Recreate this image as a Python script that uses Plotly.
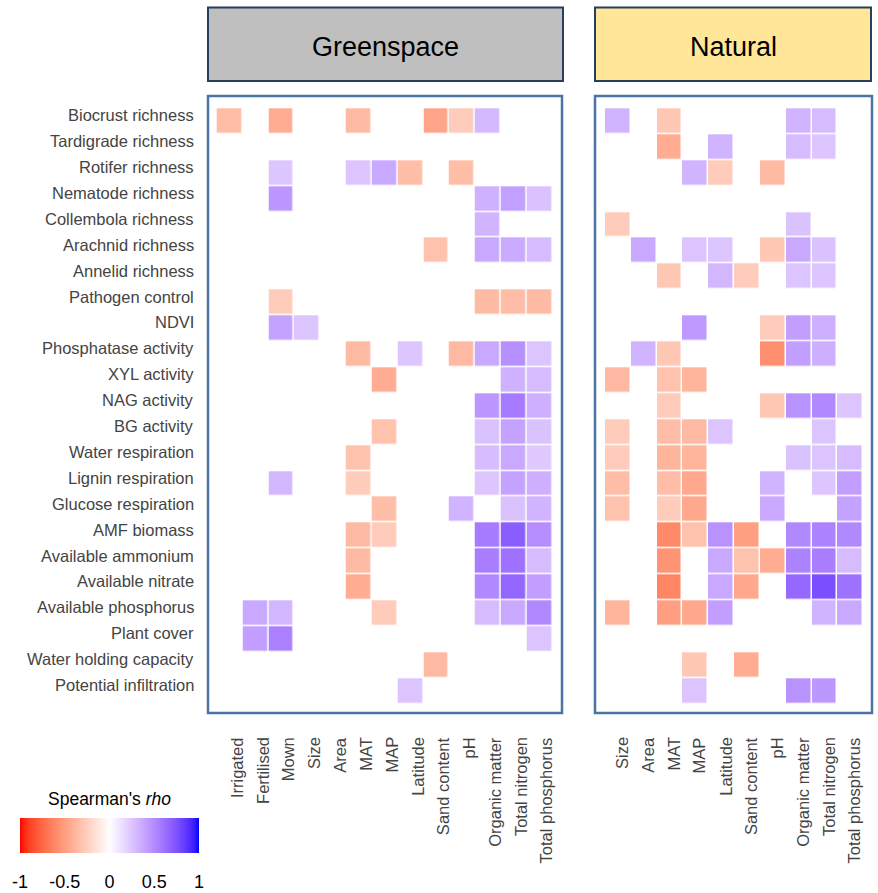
import numpy as np
import plotly.graph_objects as go

# ---------------------------------------------------------------- data
responses = [
    "Biocrust richness", "Tardigrade richness", "Rotifer richness", "Nematode richness",
    "Collembola richness", "Arachnid richness", "Annelid richness", "Pathogen control",
    "NDVI", "Phosphatase activity", "XYL activity", "NAG activity", "BG activity",
    "Water respiration", "Lignin respiration", "Glucose respiration", "AMF biomass",
    "Available ammonium", "Available nitrate", "Available phosphorus", "Plant cover",
    "Water holding capacity", "Potential infiltration",
]

green_drivers = ["Irrigated", "Fertilised", "Mown", "Size", "Area", "MAT", "MAP",
                 "Latitude", "Sand content", "pH", "Organic matter", "Total nitrogen",
                 "Total phosphorus"]
natural_drivers = ["Size", "Area", "MAT", "MAP", "Latitude", "Sand content", "pH",
                   "Organic matter", "Total nitrogen", "Total phosphorus"]

N = None
# Spearman's rho, greenspace sites (rows = responses, cols = green_drivers)
green_rho = [
    [-0.35, N, -0.43, N, N, -0.36, N, N, -0.47, -0.27, 0.30, N, N],
    [N, N, N, N, N, N, N, N, N, N, N, N, N],
    [N, N, 0.24, N, N, 0.25, 0.37, -0.34, N, -0.34, N, N, N],
    [N, N, 0.45, N, N, N, N, N, N, N, 0.33, 0.41, 0.26],
    [N, N, N, N, N, N, N, N, N, N, 0.32, N, N],
    [N, N, N, N, N, N, N, N, -0.32, N, 0.37, 0.36, 0.29],
    [N, N, N, N, N, N, N, N, N, N, N, N, N],
    [N, N, -0.27, N, N, N, N, N, N, N, -0.36, -0.35, -0.36],
    [N, N, 0.40, 0.25, N, N, N, N, N, N, N, N, N],
    [N, N, N, N, N, -0.36, N, 0.24, N, -0.37, 0.37, 0.48, 0.25],
    [N, N, N, N, N, N, -0.43, N, N, N, N, 0.33, 0.29],
    [N, N, N, N, N, N, N, N, N, N, 0.45, 0.57, 0.34],
    [N, N, N, N, N, N, -0.32, N, N, N, 0.26, 0.40, 0.26],
    [N, N, N, N, N, -0.32, N, N, N, N, 0.28, 0.37, 0.23],
    [N, N, 0.31, N, N, -0.27, N, N, N, N, 0.24, 0.40, 0.34],
    [N, N, N, N, N, N, -0.34, N, N, 0.32, N, 0.26, 0.32],
    [N, N, N, N, N, -0.36, -0.27, N, N, N, 0.57, 0.70, 0.49],
    [N, N, N, N, N, -0.36, N, N, N, N, 0.56, 0.61, 0.29],
    [N, N, N, N, N, -0.43, N, N, N, N, 0.51, 0.66, 0.42],
    [N, 0.37, 0.31, N, N, N, -0.27, N, N, N, 0.29, 0.37, 0.51],
    [N, 0.42, 0.55, N, N, N, N, N, N, N, N, N, 0.25],
    [N, N, N, N, N, N, N, N, -0.37, N, N, N, N],
    [N, N, N, N, N, N, N, 0.25, N, N, N, N, N],
]

# Spearman's rho, natural sites (rows = responses, cols = natural_drivers)
natural_rho = [
    [0.32, N, -0.29, N, N, N, N, 0.32, 0.29, N],
    [N, N, -0.43, N, 0.32, N, N, 0.29, 0.24, N],
    [N, N, N, 0.32, -0.27, N, -0.36, N, N, N],
    [N, N, N, N, N, N, N, N, N, N],
    [-0.27, N, N, N, N, N, N, 0.26, N, N],
    [N, 0.37, N, 0.25, 0.24, N, -0.29, 0.37, 0.26, N],
    [N, N, -0.29, N, 0.31, -0.27, N, 0.24, 0.24, N],
    [N, N, N, N, N, N, N, N, N, N],
    [N, N, N, 0.44, N, N, -0.27, 0.42, 0.34, N],
    [N, 0.32, -0.29, N, N, N, -0.57, 0.42, 0.34, N],
    [-0.37, N, -0.32, -0.39, N, N, N, N, N, N],
    [N, N, -0.27, N, N, N, -0.29, 0.47, 0.51, 0.25],
    [-0.27, N, -0.35, -0.37, 0.25, N, N, N, 0.25, N],
    [-0.27, N, -0.39, -0.39, N, N, N, 0.26, 0.25, 0.29],
    [-0.35, N, -0.35, -0.45, N, N, 0.32, N, 0.24, 0.42],
    [-0.32, N, -0.27, -0.45, N, N, 0.37, N, N, 0.40],
    [N, N, -0.60, -0.32, 0.47, -0.49, N, 0.51, 0.54, 0.51],
    [N, N, -0.55, N, 0.37, -0.32, -0.43, 0.54, 0.56, 0.29],
    [N, N, -0.62, N, 0.37, -0.45, N, 0.65, 0.76, 0.61],
    [-0.39, N, -0.50, -0.45, 0.42, N, N, N, 0.32, 0.37],
    [N, N, N, N, N, N, N, N, N, N],
    [N, N, N, -0.29, N, -0.43, N, N, N, N],
    [N, N, N, 0.25, N, N, N, 0.47, 0.45, N],
]

colorbar_ticks = [-1, -0.5, 0, 0.5, 1]
colorbar_ticktext = ["-1", "-0.5", "0", "0.5", "1"]


# ------------------------------------------------ diverging scale in CIELAB
LAB_RED = (53.24, 80.09, 67.20)
LAB_WHITE = (100.0, 0.0, 0.0)
LAB_BLUE = (32.30, 79.19, -107.86)


def lab_to_hex(L, a, b):
    fy = (L + 16) / 116
    fx = fy + a / 500
    fz = fy - b / 200

    def finv(t):
        return t ** 3 if t ** 3 > 0.008856 else (t - 16 / 116) / 7.787

    X, Y, Z = 0.95047 * finv(fx), finv(fy), 1.08883 * finv(fz)
    lin = [3.2406 * X - 1.5372 * Y - 0.4986 * Z,
           -0.9689 * X + 1.8758 * Y + 0.0415 * Z,
           0.0557 * X - 0.2040 * Y + 1.0570 * Z]
    out = []
    for c in lin:
        c = min(max(c, 0.0), 1.0)
        c = 12.92 * c if c <= 0.0031308 else 1.055 * c ** (1 / 2.4) - 0.055
        out.append(int(round(min(max(c, 0), 1) * 255)))
    return "#%02x%02x%02x" % tuple(out)


def build_scale(n=41):
    scale = []
    for s in np.linspace(0, 1, n):
        v = -1 + 2 * s
        end = LAB_RED if v < 0 else LAB_BLUE
        t = abs(v)
        lab = [w + t * (e - w) for w, e in zip(LAB_WHITE, end)]
        scale.append([float(s), lab_to_hex(*lab)])
    return scale


# ------------------------------------------------------------- geometry
W, H = 878, 893


def px(x):
    return x / W


def py(y):
    return 1 - y / H


PANEL_TOP, PANEL_BOT = 96, 713
GS_L, GS_R = 208, 562
NA_L, NA_R = 595, 872

fig = go.Figure()

fig.add_trace(go.Heatmap(
    z=green_rho, x=list(range(len(green_drivers))), y=list(range(len(responses))),
    coloraxis="coloraxis", xgap=1.5, ygap=1.5, hoverongaps=False,
    xaxis="x", yaxis="y",
))
fig.add_trace(go.Heatmap(
    z=natural_rho, x=list(range(len(natural_drivers))), y=list(range(len(responses))),
    coloraxis="coloraxis", xgap=1.5, ygap=1.5, hoverongaps=False,
    xaxis="x2", yaxis="y2",
))

axis_common = dict(showgrid=False, zeroline=False, showticklabels=False,
                   ticks="", showline=False, fixedrange=True)
yrange = [22.85, -0.975]

fig.update_layout(
    width=W, height=H,
    margin=dict(l=0, r=0, t=0, b=0, autoexpand=False),
    paper_bgcolor="white", plot_bgcolor="white",
    font=dict(family="Liberation Sans, Arial, sans-serif", color="#444444"),
    showlegend=False,
    xaxis=dict(domain=[px(GS_L), px(GS_R)], range=[-0.837, 12.876], **axis_common),
    yaxis=dict(domain=[py(PANEL_BOT), py(PANEL_TOP)], range=yrange, **axis_common),
    xaxis2=dict(domain=[px(NA_L), px(NA_R)], range=[-0.887, 9.837], anchor="y2",
                **axis_common),
    yaxis2=dict(domain=[py(PANEL_BOT), py(PANEL_TOP)], range=yrange, anchor="x2",
                **axis_common),
    coloraxis=dict(
        cmin=-1, cmax=1, colorscale=build_scale(),
        colorbar=dict(
            orientation="h",
            x=px(20), xanchor="left",
            y=py(798), yanchor="top",
            len=179, lenmode="pixels",
            thickness=35, thicknessmode="pixels",
            xpad=0, ypad=0,
            outlinewidth=0,
            tickvals=colorbar_ticks, ticktext=colorbar_ticktext,
            ticks="outside", ticklen=14, tickcolor="rgba(0,0,0,0)",
            tickfont=dict(size=18, color="black",
                          family="Liberation Sans, Arial, sans-serif"),
            title=dict(text="Spearman's <i>rho</i>", side="top",
                       font=dict(size=17.5, color="black",
                                 family="Liberation Sans, Arial, sans-serif")),
        ),
    ),
)

shapes = []
annotations = []

# panel frames
for x0, x1 in [(GS_L, GS_R), (NA_L, NA_R)]:
    shapes.append(dict(type="rect", xref="paper", yref="paper",
                       x0=px(x0), x1=px(x1), y0=py(PANEL_BOT), y1=py(PANEL_TOP),
                       line=dict(color="#4A74A3", width=2.5), fillcolor="rgba(0,0,0,0)",
                       layer="above"))

# strip headers
headers = [("Greenspace", GS_L, GS_R + 1, "#BFBFBF"), ("Natural", NA_L, NA_R - 1, "#FFE699")]
for text, x0, x1, fill in headers:
    shapes.append(dict(type="rect", xref="paper", yref="paper",
                       x0=px(x0), x1=px(x1), y0=py(81), y1=py(7.5),
                       line=dict(color="#263F5E", width=2), fillcolor=fill))
    annotations.append(dict(text=text, xref="paper", yref="paper",
                            x=(px(x0) + px(x1)) / 2, y=py(47), xanchor="center",
                            yanchor="middle", showarrow=False,
                            font=dict(size=27, color="black")))

# response labels
for i, name in enumerate(responses):
    annotations.append(dict(text=name, xref="paper", yref="y", x=px(196), y=i,
                            xanchor="right", yanchor="middle", yshift=6,
                            showarrow=False,
                            font=dict(size=16.5, color="#444444")))

# driver labels
for axis, names, shift in [("x", green_drivers, 7), ("x2", natural_drivers, 4)]:
    for j, name in enumerate(names):
        annotations.append(dict(text=name, xref=axis, yref="paper", x=j, y=py(735),
                                xanchor="center", yanchor="top", xshift=shift,
                                textangle=-90, showarrow=False,
                                font=dict(size=16.5, color="#444444")))

fig.update_layout(shapes=shapes, annotations=annotations)

fig.write_html("out.html")
